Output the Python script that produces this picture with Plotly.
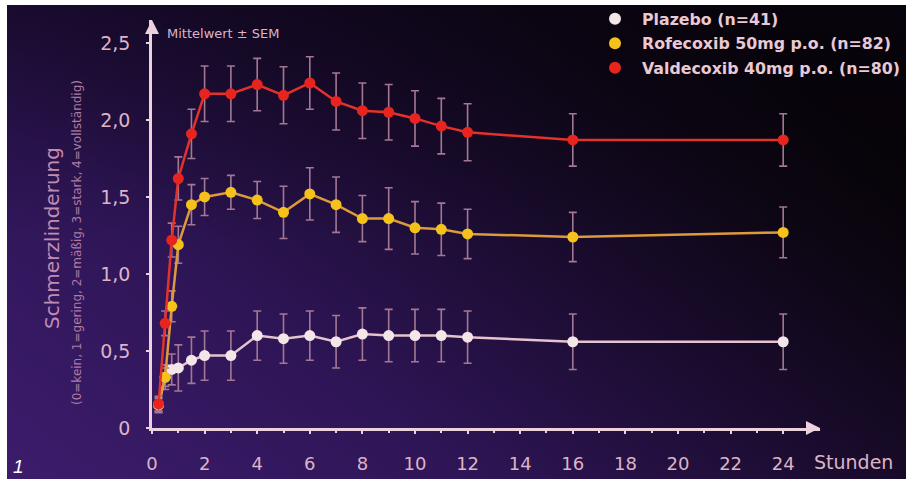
import base64
import plotly.graph_objects as go

# ---------------- data ----------------
hours = [0.25, 0.5, 0.75, 1, 1.5, 2, 3, 4, 5, 6, 7, 8, 9, 10, 11, 12, 16, 24]

placebo = [0.15, 0.33, 0.38, 0.39, 0.44, 0.47, 0.47, 0.60, 0.58, 0.60, 0.56, 0.61, 0.60, 0.60, 0.60, 0.59, 0.56, 0.56]
placebo_sem = [0.05, 0.08, 0.10, 0.15, 0.15, 0.16, 0.16, 0.16, 0.16, 0.16, 0.17, 0.17, 0.17, 0.17, 0.17, 0.17, 0.18, 0.18]

rofecoxib = [0.15, 0.33, 0.79, 1.19, 1.45, 1.50, 1.53, 1.48, 1.40, 1.52, 1.45, 1.36, 1.36, 1.30, 1.29, 1.26, 1.24, 1.27]
rofecoxib_sem = [0.04, 0.06, 0.10, 0.12, 0.13, 0.12, 0.11, 0.12, 0.17, 0.17, 0.18, 0.15, 0.20, 0.17, 0.17, 0.16, 0.16, 0.165]

valdecoxib = [0.156, 0.68, 1.22, 1.62, 1.91, 2.17, 2.17, 2.23, 2.16, 2.24, 2.12, 2.06, 2.05, 2.01, 1.96, 1.92, 1.87, 1.87]
valdecoxib_sem = [0.05, 0.08, 0.11, 0.14, 0.16, 0.18, 0.18, 0.17, 0.185, 0.17, 0.185, 0.18, 0.18, 0.18, 0.18, 0.185, 0.17, 0.17]

series_names = ["Plazebo (n=41)", "Rofecoxib 50mg p.o. (n=82)", "Valdecoxib 40mg p.o. (n=80)"]

x_ticks = list(range(0, 25, 2))
y_ticks = [0, 0.5, 1.0, 1.5, 2.0, 2.5]
y_tick_labels = ["0", "0,5", "1,0", "1,5", "2,0", "2,5"]

# ---------------- styles ----------------
W, H = 906, 479
ML, MR, MT, MB = 152, 86, 20, 51
X_RANGE = [0, 25.4]
Y_RANGE = [0, 2.649]
PW = W - ML - MR
PH = H - MT - MB

def px_to_paper_x(px):
    return (px - ML) / PW

def px_to_paper_y(py):
    return (H - MB - py) / PH

FONT = "DejaVu Sans, Verdana, sans-serif"
TXT = "#dcb4c6"
AXIS = "#ecd2dc"
ERR = "#a47894"

styles = [
    dict(line="#e6c4cf", marker="#f4e6e8"),
    dict(line="#dc9a3c", marker="#f5c21c"),
    dict(line="#e3322c", marker="#e8241e"),
]

# ---------------- gradient background (svg) ----------------
svg = f'''<svg xmlns="http://www.w3.org/2000/svg" width="{W}" height="{H}" viewBox="0 0 {W} {H}" preserveAspectRatio="none">
<defs>
<linearGradient id="g" x1="0" y1="1" x2="1" y2="0.3">
<stop offset="0" stop-color="#3c1c6c"/>
<stop offset="0.35" stop-color="#2e1556"/>
<stop offset="0.62" stop-color="#1b0c30"/>
<stop offset="0.85" stop-color="#0c0612"/>
<stop offset="1" stop-color="#060306"/>
</linearGradient>
<linearGradient id="v" x1="0" y1="0" x2="0" y2="1">
<stop offset="0" stop-color="#0a0414" stop-opacity="0.45"/>
<stop offset="0.5" stop-color="#0a0414" stop-opacity="0"/>
</linearGradient>
</defs>
<rect width="{W}" height="{H}" fill="url(#g)"/>
<rect width="{W}" height="{H}" fill="url(#v)"/>
</svg>'''
svg_uri = "data:image/svg+xml;base64," + base64.b64encode(svg.encode()).decode()

fig = go.Figure()

for name, ys, sem, st in zip(series_names,
                             [placebo, rofecoxib, valdecoxib],
                             [placebo_sem, rofecoxib_sem, valdecoxib_sem],
                             styles):
    fig.add_trace(go.Scatter(
        x=hours, y=ys, mode="lines+markers", name=name, showlegend=False,
        line=dict(color=st["line"], width=2.5),
        marker=dict(color=st["marker"], size=11, line=dict(width=0)),
        error_y=dict(type="data", array=sem, visible=True, color=ERR, thickness=1.6, width=4),
        cliponaxis=False,
    ))

# legend-only entries (one group each so the group gap spaces the rows)
for i, (name, st) in enumerate(zip(series_names, styles)):
    fig.add_trace(go.Scatter(
        x=[None], y=[None], mode="markers", name=name, legendgroup=f"g{i}",
        marker=dict(color=st["marker"], size=11),
    ))

annotations = [
    # y-axis arrow
    dict(x=0, y=Y_RANGE[1], xref="x", yref="y", ax=0, ay=8,
         text="", showarrow=True, arrowhead=2, arrowsize=1.4, arrowwidth=2, arrowcolor=AXIS,
         standoff=0),
    # x-axis arrow
    dict(x=X_RANGE[1], y=0, xref="x", yref="y", ax=-8, ay=0,
         text="", showarrow=True, arrowhead=2, arrowsize=1.4, arrowwidth=2, arrowcolor=AXIS,
         standoff=0),
    dict(x=px_to_paper_x(165), y=px_to_paper_y(33), xref="paper", yref="paper",
         text="Mittelwert ± SEM", showarrow=False, xanchor="left", yanchor="middle",
         font=dict(size=13, color=TXT, family=FONT)),
    dict(x=px_to_paper_x(812), y=px_to_paper_y(462), xref="paper", yref="paper",
         text="Stunden", showarrow=False, xanchor="left", yanchor="middle",
         font=dict(size=19, color=TXT, family=FONT)),
    dict(x=px_to_paper_x(52), y=px_to_paper_y(238), xref="paper", yref="paper",
         text="Schmerzlinderung", textangle=-90, showarrow=False,
         xanchor="center", yanchor="middle",
         font=dict(size=20, color="#c28cb0", family=FONT)),
    dict(x=px_to_paper_x(77), y=px_to_paper_y(243), xref="paper", yref="paper",
         text="(0=kein, 1=gering, 2=mäßig, 3=stark, 4=vollständig)", textangle=-90, showarrow=False,
         xanchor="center", yanchor="middle",
         font=dict(size=12, color="#b07ca0", family=FONT)),
    dict(x=px_to_paper_x(11), y=px_to_paper_y(466), xref="paper", yref="paper",
         text="<i>1</i>", showarrow=False, xanchor="left", yanchor="middle",
         font=dict(size=19, color="#ffffff", family="Liberation Sans, Arial")),
]

fig.update_layout(
    width=W, height=H, autosize=False,
    margin=dict(l=ML, r=MR, t=MT, b=MB, pad=0, autoexpand=False),
    paper_bgcolor="#ffffff",
    plot_bgcolor="rgba(0,0,0,0)",
    images=[dict(source=svg_uri, xref="paper", yref="paper",
                 x=px_to_paper_x(7), y=px_to_paper_y(5),
                 sizex=(W - 7) / PW, sizey=(H - 5) / PH,
                 xanchor="left", yanchor="top", sizing="stretch", layer="below")],
    xaxis=dict(range=X_RANGE, tickvals=x_ticks, ticktext=[str(v) for v in x_ticks],
               showgrid=False, zeroline=False, showline=True, linecolor=AXIS, linewidth=2.5,
               ticks="outside", ticklen=3, tickcolor=AXIS, tickwidth=1.5,
               minor=dict(dtick=1, ticks="outside", ticklen=2, tickcolor=AXIS),
               ticklabelstandoff=15, automargin=False,
               tickfont=dict(size=18, color=TXT, family=FONT)),
    yaxis=dict(range=Y_RANGE, tickvals=y_ticks, ticktext=y_tick_labels,
               showgrid=False, zeroline=False, showline=True, linecolor=AXIS, linewidth=2.5,
               ticks="outside", ticklen=3, tickcolor=AXIS, tickwidth=1.5,
               ticklabelstandoff=12, automargin=False,
               tickfont=dict(size=19, color=TXT, family=FONT)),
    showlegend=True,
    legend=dict(x=px_to_paper_x(588), y=px_to_paper_y(2), xanchor="left", yanchor="top",
                bgcolor="rgba(0,0,0,0)", borderwidth=0, itemwidth=44,
                font=dict(size=15.8, color="#e8c9d4", family=FONT, weight="bold"),
                itemsizing="constant", tracegroupgap=1),
    annotations=annotations,
)

post = (
    "document.documentElement.style.margin='0';"
    "document.documentElement.style.overflow='hidden';"
    "document.body.style.margin='0';"
    "document.body.style.overflow='hidden';"
)

fig.write_html("out.html", config={"displayModeBar": False}, post_script=post)
